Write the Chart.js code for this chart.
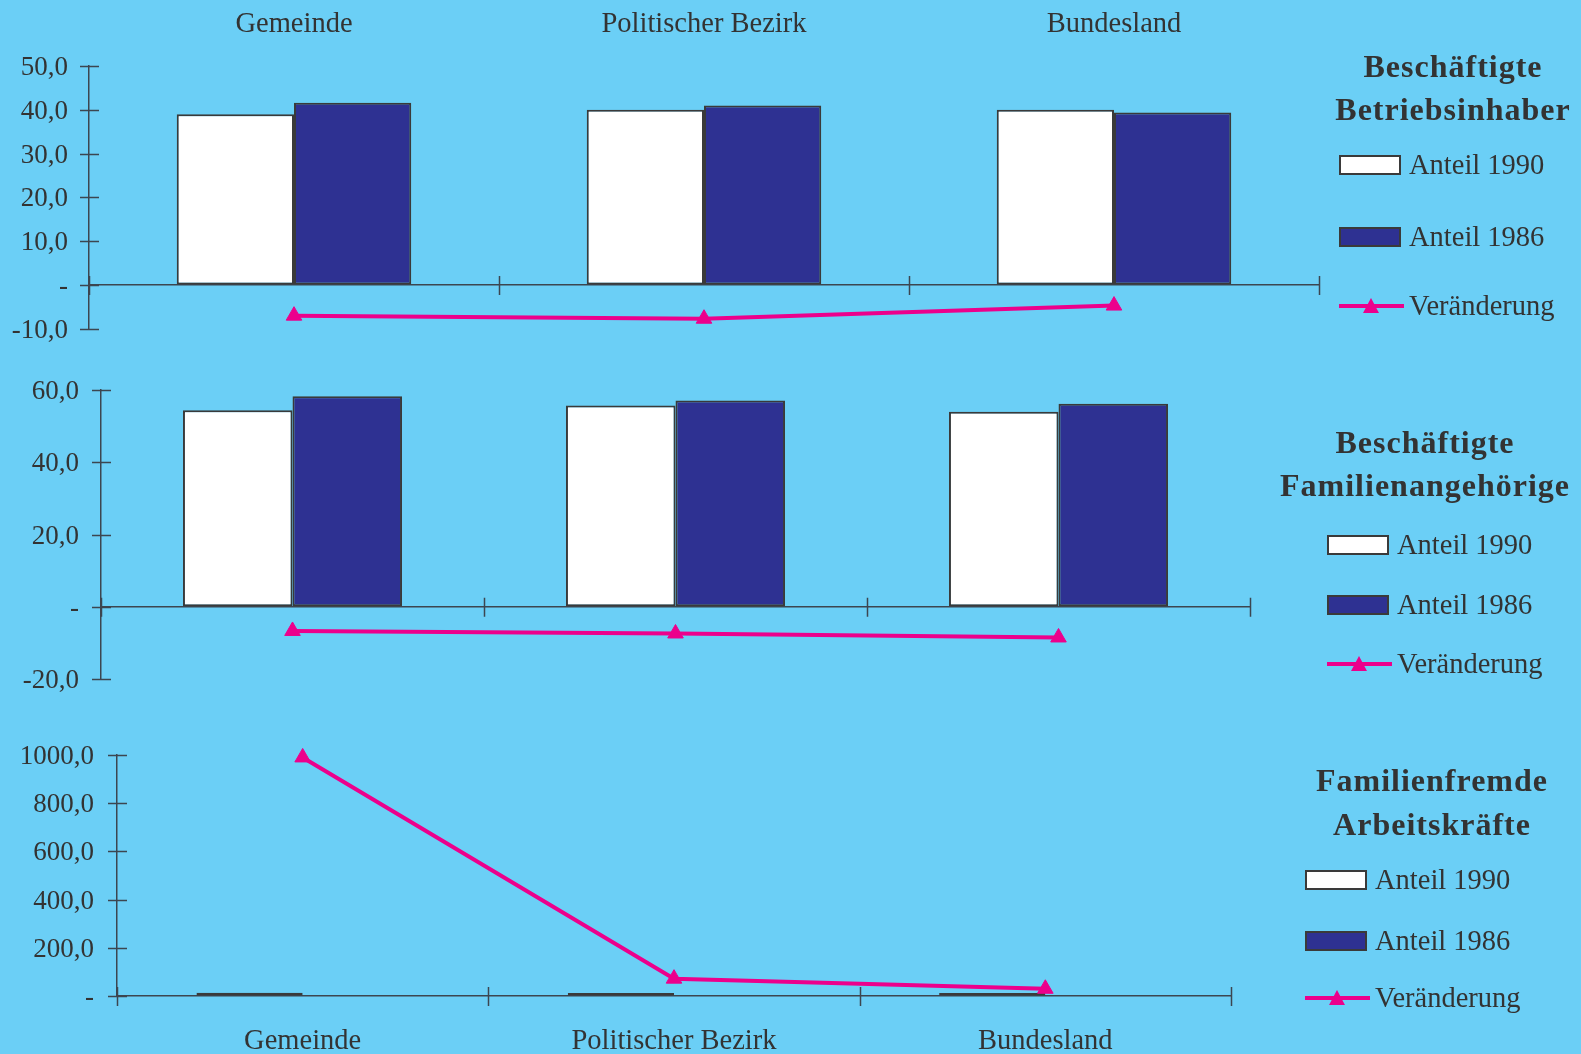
<!DOCTYPE html>
<html>
<head>
<meta charset="utf-8">
<script src="https://cdn.jsdelivr.net/npm/chart.js@4.4.1/dist/chart.umd.min.js"></script>
<style>
  body { margin: 0; background: #6BCFF6; width: 1581px; height: 1054px; overflow: hidden; position: relative; font-family: 'Liberation Serif', 'Times New Roman', serif; color: #333; }
  canvas { position: absolute; left: 0; }
  .ltitle { position: absolute; width: 420px; text-align: center; font-weight: bold; font-size: 32px; letter-spacing: 1px; line-height: 43px; }
  .litem { position: absolute; height: 30px; font-size: 28.5px; line-height: 30px; white-space: nowrap; }
  .lbox { position: absolute; left: 0; top: 5px; width: 58px; height: 16px; border: 2px solid #3a3a3a; }
  .lline { position: absolute; left: 0; top: 13px; width: 65px; height: 4px; background: #EC008C; }
  .ltri { position: absolute; left: 24px; top: 7px; width: 0; height: 0; border-left: 8px solid transparent; border-right: 8px solid transparent; border-bottom: 15px solid #EC008C; }
  .ltext { position: absolute; left: 70px; top: 0; }
</style>
</head>
<body>
<canvas id="chart1" width="1581" height="345" style="top:0"></canvas>
<canvas id="chart2" width="1581" height="355" style="top:345px"></canvas>
<canvas id="chart3" width="1581" height="354" style="top:700px"></canvas>
<div id="legends"></div>
<script>
var categories = ["Gemeinde", "Politischer Bezirk", "Bundesland"];
var seriesNames = ["Anteil 1990", "Anteil 1986", "Veränderung"];

var betrieb1990 = [39.0, 40.0, 40.0];
var betrieb1986 = [41.6, 41.0, 39.4];
var betriebChange = [-7.0, -7.7, -4.7];

var familie1990 = [54.4, 55.7, 54.0];
var familie1986 = [58.3, 57.1, 56.2];
var familieChange = [-6.7, -7.4, -8.5];

var fremd1990 = [13, 12, 12];
var fremd1986 = [0, 0, 0];
var fremdChange = [990, 72, 30];

var NAVY = "#2E3192";
var PINK = "#EC008C";
var INK = "#333333";
var AXIS = "#3c4650";

Chart.defaults.font.family = "'Liberation Serif', 'Times New Roman', serif";
Chart.defaults.font.size = 27;
Chart.defaults.color = INK;

function fmt(v) {
    if (v === 0) return "-";
    return v.toFixed(1).replace(".", ",");
}

// ticks that cross the axis lines, like the original
var crossTicks = {
    id: "crossTicks",
    afterDraw: function (chart) {
        var ctx = chart.ctx;
        var x = chart.scales.x;
        var y = chart.scales.y;
        ctx.save();
        ctx.strokeStyle = AXIS;
        ctx.lineWidth = 1.5;
        ctx.beginPath();
        y.ticks.forEach(function (t) {
            var py = Math.round(y.getPixelForValue(t.value)) + 0.5;
            ctx.moveTo(y.right - 9, py);
            ctx.lineTo(y.right + 10, py);
        });
        var half = (x.getPixelForValue(1) - x.getPixelForValue(0)) / 2;
        var y0 = y.getPixelForValue(0);
        for (var i = 0; i <= categories.length; i++) {
            var px = Math.round(x.getPixelForValue(i) - half) + 0.5;
            ctx.moveTo(px, y0 - 9);
            ctx.lineTo(px, y0 + 10);
        }
        ctx.stroke();
        ctx.restore();
    },
};

function makeChart(id, v1990, v1986, change, opt) {
    var scales = {
        x: {
            position: opt.labelsBottom ? "bottom" : { y: 0 },
            offset: true,
            grid: { display: false, drawTicks: false },
            border: { display: true, color: AXIS, width: 1.5 },
            ticks: { display: !!opt.labelsBottom, padding: 28, maxRotation: 0, font: { size: 28.5 } },
            afterFit: function (s) { s.height = opt.labelsBottom ? opt.bottomH : 0; },
        },
        y: {
            min: opt.min,
            max: opt.max,
            // invisible tick marks only push the labels away from the axis
            grid: { display: true, drawOnChartArea: false, drawTicks: true, tickLength: opt.tickPad, tickColor: "rgba(0,0,0,0)" },
            border: { display: true, color: AXIS, width: 1.5 },
            ticks: { stepSize: opt.step, padding: 0, labelOffset: 2, callback: function (v) { return fmt(v); } },
            afterFit: function (s) { s.width = opt.left; },
        },
    };
    if (opt.labelsTop) {
        scales.xTop = {
            type: "category",
            position: "top",
            offset: true,
            grid: { display: false, drawTicks: false },
            border: { display: false },
            ticks: { padding: 24, maxRotation: 0, font: { size: 28.5 } },
            afterFit: function (s) { s.height = opt.topH; },
        };
    }
    return new Chart(document.getElementById(id), {
        type: "bar",
        data: {
            labels: categories,
            datasets: [
                {
                    type: "line",
                    label: seriesNames[2],
                    data: change,
                    borderColor: PINK,
                    backgroundColor: PINK,
                    borderWidth: 4,
                    pointStyle: "triangle",
                    pointRadius: 9,
                    pointBorderWidth: 1,
                    tension: 0,
                    clip: false,
                    order: 0,
                },
                {
                    label: seriesNames[0],
                    data: v1990,
                    backgroundColor: "#ffffff",
                    borderColor: "#3a3a3a",
                    borderWidth: 2,
                    borderSkipped: false,
                    order: 1,
                },
                {
                    label: seriesNames[1],
                    data: v1986,
                    backgroundColor: NAVY,
                    borderColor: "#3a3a3a",
                    borderWidth: 2,
                    borderSkipped: false,
                    order: 1,
                },
            ],
        },
        options: {
            responsive: false,
            animation: false,
            layout: { padding: { top: opt.padTop, right: 1581 - opt.right, bottom: opt.padBottom, left: 0 } },
            categoryPercentage: 0.572,
            barPercentage: 1.0,
            plugins: { legend: { display: false }, tooltip: { enabled: false } },
            scales: scales,
        },
        plugins: [crossTicks],
    });
}

makeChart("chart1", betrieb1990, betrieb1986, betriebChange, {
    min: -10, max: 50, step: 10, left: 89, right: 1319, tickPad: 21,
    labelsTop: true, topH: 66, padTop: 0, padBottom: 16,
});
makeChart("chart2", familie1990, familie1986, familieChange, {
    min: -20, max: 60, step: 20, left: 101, right: 1250, tickPad: 22,
    padTop: 45, padBottom: 21,
});
makeChart("chart3", fremd1990, fremd1986, fremdChange, {
    min: 0, max: 1000, step: 200, left: 117, right: 1231, tickPad: 23,
    labelsBottom: true, bottomH: 58, padTop: 55, padBottom: 0,
});

// legends beside each panel
var legendSpecs = [
    { title: ["Beschäftigte", "Betriebsinhaber"], cx: 1453, ty: [67, 110], bx: 1339, rows: [165, 237, 306] },
    { title: ["Beschäftigte", "Familienangehörige"], cx: 1425, ty: [443, 486], bx: 1327, rows: [545, 605, 664] },
    { title: ["Familienfremde", "Arbeitskräfte"], cx: 1432, ty: [781, 825], bx: 1305, rows: [880, 941, 998] },
];
var holder = document.getElementById("legends");
legendSpecs.forEach(function (spec) {
    spec.title.forEach(function (t, i) {
        var d = document.createElement("div");
        d.className = "ltitle";
        d.textContent = t;
        d.style.left = spec.cx - 210 + "px";
        d.style.top = spec.ty[i] - 22 + "px";
        holder.appendChild(d);
    });
    seriesNames.forEach(function (name, i) {
        var item = document.createElement("div");
        item.className = "litem";
        item.style.left = spec.bx + "px";
        item.style.top = spec.rows[i] - 15 + "px";
        if (i < 2) {
            var box = document.createElement("div");
            box.className = "lbox";
            box.style.background = i === 0 ? "#ffffff" : NAVY;
            item.appendChild(box);
        } else {
            var line = document.createElement("div");
            line.className = "lline";
            item.appendChild(line);
            var tri = document.createElement("div");
            tri.className = "ltri";
            item.appendChild(tri);
        }
        var txt = document.createElement("span");
        txt.className = "ltext";
        txt.textContent = name;
        item.appendChild(txt);
        holder.appendChild(item);
    });
});
</script>
</body>
</html>
